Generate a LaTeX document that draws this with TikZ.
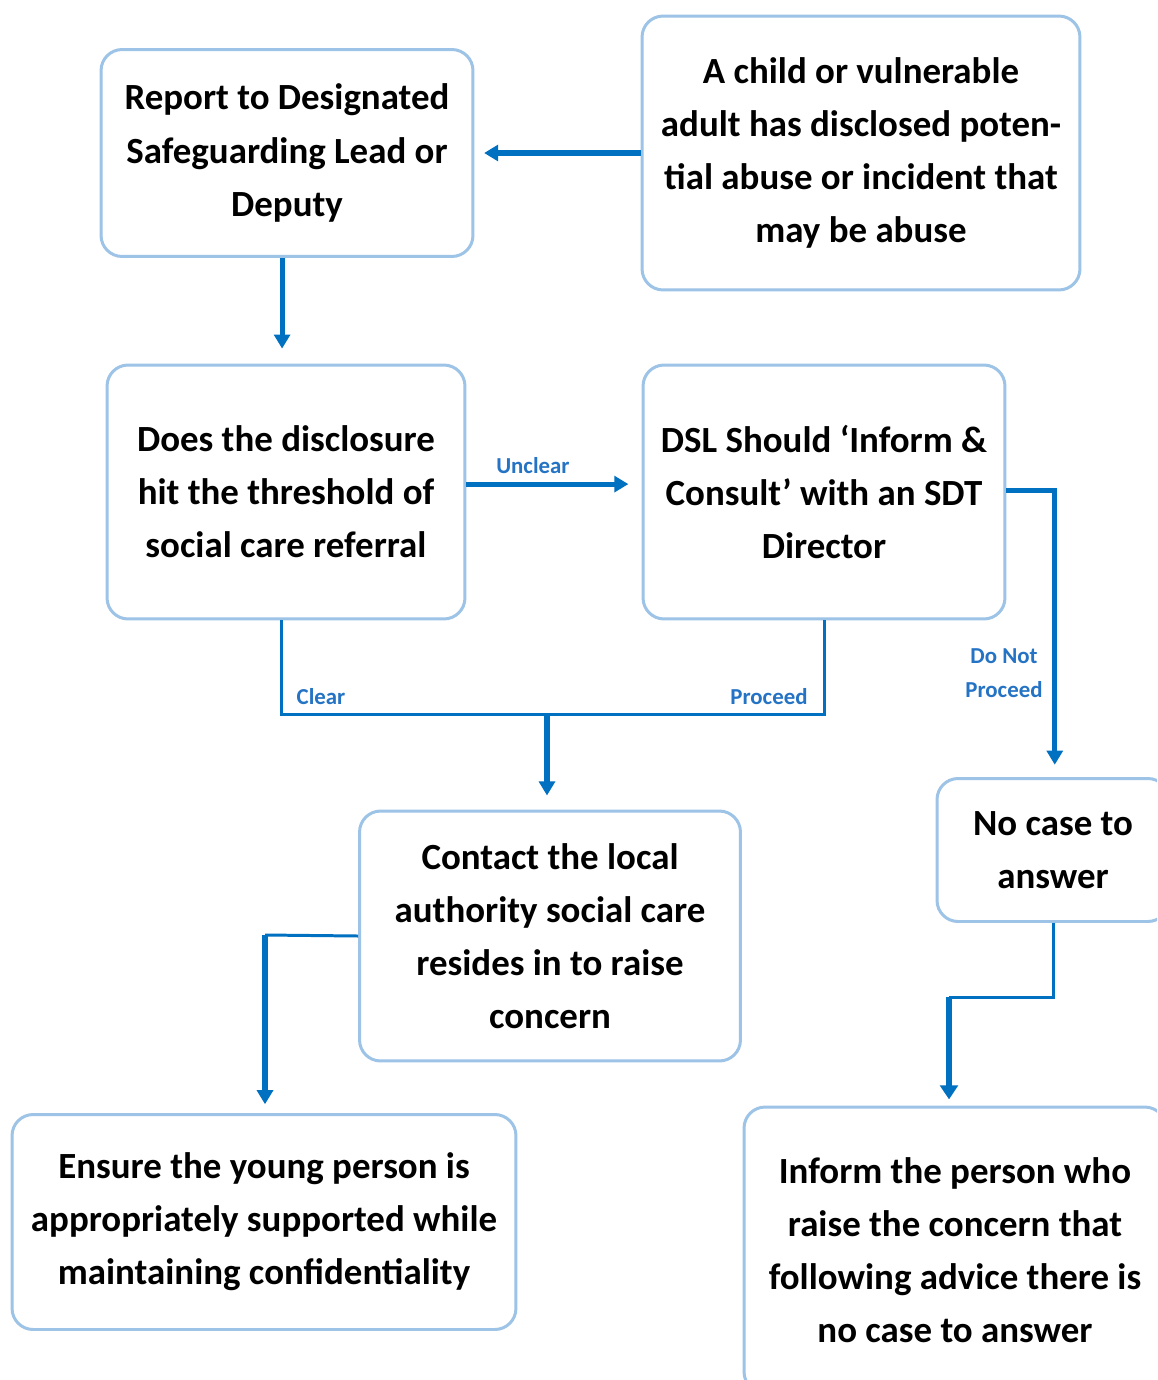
\documentclass[tikz,border=0pt]{standalone}
\usepackage{fontspec}
\setmainfont{Carlito}
\usetikzlibrary{arrows.meta}
\definecolor{BoxEdge}{HTML}{9DC3E6}
\definecolor{FlowBlue}{HTML}{0070C0}
\definecolor{LabelBlue}{HTML}{2473C4}
\definecolor{TextColor}{HTML}{000000}

\begin{document}
\begin{tikzpicture}[
    x=0.02cm, y=-0.02cm,
    flowbox/.style={draw=BoxEdge, fill=white, line width=1.7pt, rounded corners=12pt, align=center,
        font=\fontsize{21}{30.2}\selectfont\bfseries, text=TextColor, inner sep=0pt},
    flowline/.style={draw=FlowBlue, line width=1.7pt},
    flowarrow/.style={draw=FlowBlue, line width=2.9pt, -{Triangle[width=9pt,length=8pt]}},
    heavyarrow/.style={draw=FlowBlue, line width=3.8pt, -{Triangle[width=10pt,length=8pt]}},
    edgelabel/.style={font=\fontsize{13}{19}\selectfont\bfseries, text=LabelBlue, align=center}
]

\useasboundingbox (0,0) rectangle (1157,1380);
\clip (0,0) rectangle (1157,1380);
\fill[white] (0,0) rectangle (1157,1380);

\node[flowbox, minimum width=7.44cm, minimum height=4.14cm] (report) at (287,153)
    {Report to Designated\\Safeguarding Lead or\\Deputy};
\node[flowbox, minimum width=8.76cm, minimum height=5.48cm] (child) at (861,153)
    {A child or vulnerable\\adult has disclosed poten-\\tial abuse or incident that\\may be abuse};
\node[flowbox, minimum width=7.16cm, minimum height=5.08cm] (does) at (286,492)
    {Does the disclosure\\hit the threshold of\\social care referral};
\node[flowbox, minimum width=7.24cm, minimum height=5.08cm] (dsl) at (824,492)
    {DSL Should ‘Inform \&\\Consult’ with an SDT\\Director};
\node[flowbox, minimum width=7.62cm, minimum height=5.0cm] (contact) at (550,936)
    {Contact the local\\authority social care\\resides in to raise\\concern};
\node[flowbox, minimum width=4.64cm, minimum height=2.86cm] (nocase) at (1053,850)
    {No case to\\answer};
\node[flowbox, minimum width=10.08cm, minimum height=4.3cm] (ensure) at (264,1222)
    {Ensure the young person is\\appropriately supported while\\maintaining confidentiality};
\node[flowbox, minimum width=8.44cm, minimum height=5.72cm] (inform) at (955,1250)
    {Inform the person who\\raise the concern that\\following advice there is\\no case to answer};

\coordinate (join) at (547,714);
\coordinate (dropA) at (949,997);
\coordinate (dropB) at (265,935);

\draw[flowarrow, shorten >=5.5pt] (child.west) -- (report.east);
\draw[flowarrow, shorten >=8.5pt] ([xshift=-2.8pt]report.south) -- ([xshift=-2.8pt]report.south |- does.north);
\draw[flowarrow, shorten >=7.5pt] ([yshift=4.5pt]does.east) -- ([yshift=4.5pt]dsl.west)
    node[edgelabel, midway, above=1pt, xshift=-12pt] (unclear) {Unclear};

\draw[flowline] ([xshift=-2.8pt]does.south) |- (join) -| (dsl.south);
\node[edgelabel] (clear) at (321,697) {Clear};
\node[edgelabel] (proceed) at (769,697) {Proceed};
\draw[flowarrow, shorten >=8pt] (join) -- (join |- contact.north);

\draw[flowarrow, shorten >=7pt] ([yshift=1pt]dsl.east) -| ([xshift=1pt]nocase.north);
\node[edgelabel] (donot) at (1004,673) {Do Not\\Proceed};

\draw[flowline] (nocase.south) |- (dropA);
\draw[heavyarrow, shorten >=3.5pt] (dropA) -- (dropA |- inform.north);

\draw[flowline] (contact.west) -- (dropB);
\draw[flowarrow, shorten >=5pt] (dropB) -- (dropB |- ensure.north);

\end{tikzpicture}
\end{document}
